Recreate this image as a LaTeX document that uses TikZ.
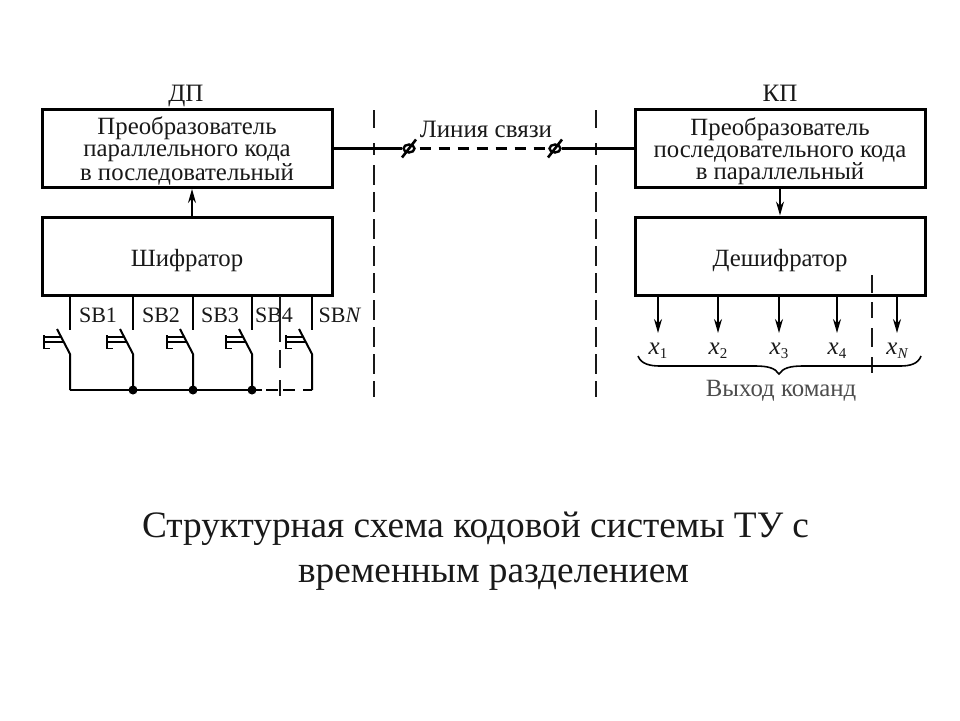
\documentclass[tikz,border=0pt]{standalone}
\usepackage{fontspec}
\setmainfont{Liberation Serif}
\usetikzlibrary{arrows.meta,shapes.geometric,calc}
\definecolor{ink}{gray}{0.1}
\tikzset{
  blockbox/.style={draw,line width=3pt,minimum width=290pt,minimum height=78pt,inner sep=0pt},
  boxtext/.style={inner sep=0pt,align=center,font=\fontsize{24.8}{22}\selectfont,text=ink},
  lbl/.style={inner sep=0pt,anchor=base,font=\fontsize{25}{26}\selectfont,text=ink},
  sblbl/.style={inner sep=0pt,anchor=base,font=\fontsize{22}{24}\selectfont,text=ink},
  xlbl/.style={inner sep=0pt,anchor=base,font=\fontsize{25}{26}\selectfont\itshape,text=ink},
  titletext/.style={inner sep=0pt,anchor=base,font=\fontsize{37.3}{40}\selectfont,text=ink},
  wire/.style={line width=2pt},
  bus/.style={line width=2.2pt},
  sep/.style={line width=1.6pt,dash pattern=on 18pt off 15pt on 12pt off 10pt on 20pt off 7pt on 20pt off 7pt on 20pt off 7pt on 20pt off 7pt on 20pt off 7pt on 20pt off 7pt on 20pt off 7pt on 20pt off 7pt on 20pt off 7pt,ink},
  arr/.style={line width=1.5pt,-{Stealth[length=14pt,width=8pt]}},
  dotnode/.style={circle,fill,inner sep=0pt,minimum size=9pt},
  joint/.style={draw,line width=2.4pt,ellipse,inner sep=0pt,minimum height=8pt,minimum width=11pt}
}
\begin{document}
\begin{tikzpicture}[x=1pt,y=-1pt]
\useasboundingbox (0,0) rectangle (960,720);
\fill[white] (0,0) rectangle (960,720);

\node[lbl] (dp) at (186,101) {ДП};
\node[lbl] (kp) at (780,101) {КП};

\node[blockbox] (conv1) at (187,148.5) {};
\node[blockbox] (enc) at (187,256) {};
\node[blockbox] (conv2) at (780,148.5) {};
\node[blockbox] (dec) at (780,256) {};
\node[boxtext] (conv1t) at (187,151) {Преобразователь\\параллельного кода\\в последовательный};
\node[boxtext] (conv2t) at (780,151) {Преобразователь\\последовательного кода\\в параллельный};
\node[boxtext,anchor=base] (enct) at (187,266) {Шифратор};
\node[boxtext,anchor=base] (dect) at (780,266) {Дешифратор};

\draw[arr] (192,217) coordinate (a1) -- (a1 |- conv1.south);
\draw[arr] (780,188) coordinate (a2) -- (a2 |- dec.north);

% separators
\coordinate (s1t) at (374,110); \coordinate (s1b) at (374,397);
\coordinate (s2t) at (596,110); \coordinate (s2b) at (596,397);
\draw[sep] (s1t) -- (s1b);
\draw[sep] (s2t) -- (s2b);

% line
\node[lbl] (line) at (486,137) {Линия связи};
\node[joint] (j1) at (409,148.5) {};
\node[joint] (j2) at (555,148.5) {};
\draw[line width=2.6pt] (j1.center) ++(-7,9) -- ++(14,-18);
\draw[line width=2.6pt] (j2.center) ++(-7,9) -- ++(14,-18);
\draw[bus] (conv1.east) -- (j1.west);
\draw[bus] (j2.east) -- (conv2.west);
\draw[bus,dash pattern=on 11pt off 8pt] (j1.east) ++(4,0) -- (j2.west);

% keys
\foreach \n/\x in {1/70,2/133,3/193,4/252,5/312}{
  \coordinate (t\n) at (\x,296);
  \coordinate (c\n) at (\x,330);
  \coordinate (b\n) at (\x,390);
  \draw[wire] (t\n) -- (c\n);
  \draw[wire] (\x-13,329) -- (\x,354) -- (b\n);
  \draw[line width=2pt] (\x-26,335) -- (\x-26,349);
  \draw[line width=1.6pt] (\x-26,337) -- (\x-9,337);
  \draw[line width=1.6pt] (\x-26,342) -- (\x-7,342);
  \draw[line width=1.6pt] (\x-26,348.5) -- (\x-20,348.5);
}
\node[sblbl] (sb1) at (98,322) {SB1};
\node[sblbl] (sb2) at (161,322) {SB2};
\node[sblbl] (sb3) at (220,322) {SB3};
\node[sblbl] (sb4) at (274,322) {SB4};
\node[sblbl] (sbn) at (340,322) {SB\textit{N}};

\draw[bus] (b1) -- (b4);
\draw[bus,dash pattern=on 6pt off 4pt on 12pt off 5pt on 12pt off 8pt on 13pt off 0pt] (b4) ++(4,0) -- (b5);
\foreach \n in {2,3,4}{\node[dotnode] (d\n) at (b\n) {};}

\coordinate (v1t) at (280,296); \coordinate (v1b) at (280,396);
\draw[line width=1.6pt,ink,dash pattern=on 46pt off 8pt on 18pt off 12pt on 16pt off 10pt] (v1t) -- (v1b);

% outputs
\foreach \n/\x/\s in {1/658/1,2/718/2,3/779/3,4/837/4,5/897/N}{
  \coordinate (o\n) at (\x,333);
  \draw[arr] (\x,296) -- (o\n);
  \node[xlbl] (x\n) at (\x,354) {x\raisebox{-4pt}{\fontsize{15}{15}\selectfont\ifnum\n=5 \textit{N}\else\upshape\s\fi}};
}
\coordinate (v2t) at (872,275); \coordinate (v2b) at (872,373);
\draw[line width=2pt,ink,dash pattern=on 18pt off 9pt on 16pt off 10pt on 19pt off 10pt on 16pt off 5pt] (v2t) -- (v2b);

\coordinate (bl) at (638,356); \coordinate (bm) at (779,374); \coordinate (br) at (921,356);
\draw[line width=1.6pt] (bl) .. controls (641,364) and (650,366) .. (660,366)
  -- (755,366) .. controls (768,366) and (775,368) .. (bm)
  .. controls (783,368) and (790,366) .. (803,366)
  -- (900,366) .. controls (910,366) and (918,364) .. (br);
\node[lbl,text=black!70,font=\fontsize{24.8}{26}\selectfont] (out) at (781,396) {Выход команд};

% title
\node[titletext] (t1) at (475.5,537) {Структурная схема кодовой системы ТУ с};
\node[titletext] (t2) at (493.5,582) {временным разделением};
\end{tikzpicture}
\end{document}
